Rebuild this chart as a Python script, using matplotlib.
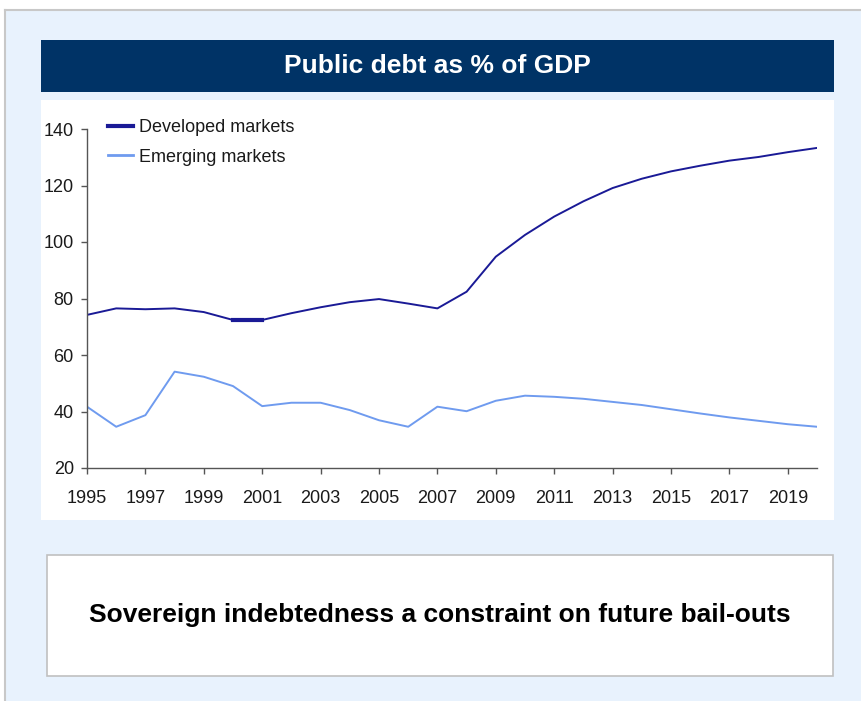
import matplotlib
matplotlib.use("Agg")
import matplotlib.pyplot as plt
from matplotlib.patches import Rectangle
from matplotlib.lines import Line2D

years = list(range(1995, 2021))
developed = [74.2, 76.5, 76.2, 76.5, 75.2, 72.4, 72.4, 74.8, 76.9, 78.7, 79.8, 78.2, 76.5,
             82.4, 94.8, 102.5, 109.0, 114.4, 119.1, 122.4, 125.0, 127.0, 128.8, 130.1, 131.8, 133.3]
emerging = [41.7, 34.6, 38.7, 54.1, 52.3, 49.0, 41.9, 43.1, 43.1, 40.5, 36.9, 34.6, 41.7,
            40.1, 43.8, 45.6, 45.2, 44.5, 43.4, 42.3, 40.8, 39.3, 37.9, 36.7, 35.5, 34.6]
series_names = ["Developed markets", "Emerging markets"]
xticks = list(range(1995, 2020, 2))
yticks = [20, 40, 60, 80, 100, 120, 140]
title = "Public debt as % of GDP"
caption = "Sovereign indebtedness a constraint on future bail-outs"

W, H = 862, 701
BG = "#e8f2fd"
NAVY = "#003366"
DARK = "#1a1a96"
LIGHT = "#6f9bef"
narrow = ["Liberation Sans Narrow", "Liberation Sans", "DejaVu Sans"]

def box(x0, y0, x1, y1):
    # pixel box (top-left origin) -> figure fraction rect
    return (x0 / W, 1 - y1 / H, (x1 - x0) / W, (y1 - y0) / H)

def panel(x0, y0, x1, y1, **kw):
    r = box(x0, y0, x1, y1)
    fig.patches.append(Rectangle(r[:2], r[2], r[3], transform=fig.transFigure, zorder=-5, **kw))

fig = plt.figure(figsize=(W / 100, H / 100), dpi=100)
fig.patch.set_facecolor("white")

# light blue frame with grey top/left border
panel(5, 10, W, H, facecolor=BG, edgecolor="none")
fig.add_artist(Line2D([5 / W, 1], [1 - 10 / H] * 2, transform=fig.transFigure, color="#c8c8c8", lw=1.5))
fig.add_artist(Line2D([5 / W] * 2, [0, 1 - 10 / H], transform=fig.transFigure, color="#c8c8c8", lw=1.5))

# title bar
panel(41, 40, 834, 92, facecolor=NAVY, edgecolor="none")
fig.text((41 + 834) / 2 / W, 1 - 66 / H, title, color="white", fontsize=19, fontweight="bold",
         family="Liberation Sans", ha="center", va="center")

# white chart panel
panel(41, 100, 834, 520, facecolor="white", edgecolor="none")

# caption box
panel(47, 555, 833, 676, facecolor="white", edgecolor="#c0c0c0", lw=1.2)
fig.text((47 + 833) / 2 / W, 1 - 615 / H, caption, color="black", fontsize=19, fontweight="bold",
         family="Liberation Sans", ha="center", va="center")

ax = fig.add_axes(box(87, 129, 817, 468))
ax.set_zorder(5)
ax.set_facecolor("none")
ax.plot(years, developed, color=DARK, lw=1.4, label=series_names[0])
ax.plot(years, emerging, color=LIGHT, lw=1.4, label=series_names[1])
ax.plot(years[5:7], developed[5:7], color=DARK, lw=3.0)

ax.set_xlim(1995, 2020)
ax.set_ylim(20, 140)
ax.set_xticks(xticks)
ax.set_yticks(yticks)
for s in ["top", "right"]:
    ax.spines[s].set_visible(False)
for s in ["left", "bottom"]:
    ax.spines[s].set_color("#555555")
    ax.spines[s].set_linewidth(1.0)
ax.tick_params(axis="both", direction="out", length=4.5, width=1.0, color="#555555",
               labelsize=13, labelcolor="#1a1a1a")
ax.tick_params(axis="y", pad=5)
ax.tick_params(axis="x", pad=11)
for lbl in ax.get_xticklabels() + ax.get_yticklabels():
    lbl.set_family(narrow)

leg = ax.legend(loc="upper left", bbox_to_anchor=(108 / W, 1 - 119 / H), bbox_transform=fig.transFigure,
                frameon=False, handlelength=1.4, handletextpad=0.3, labelspacing=0.7, borderpad=0,
                borderaxespad=0, prop={"family": narrow, "size": 13})
leg.get_lines()[0].set_linewidth(3.0)
leg.get_lines()[1].set_linewidth(2.0)
for t in leg.get_texts():
    t.set_color("#1a1a1a")

fig.savefig("out.png", dpi=100, facecolor=fig.get_facecolor())
